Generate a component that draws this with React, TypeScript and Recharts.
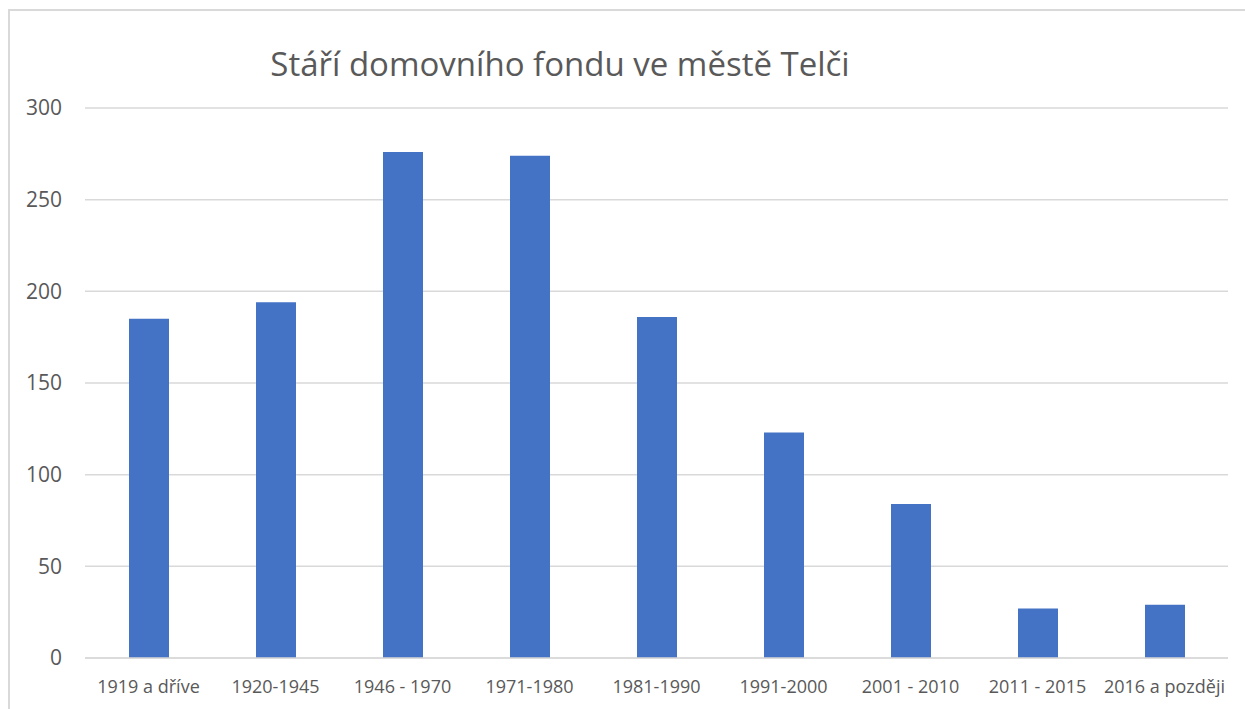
import React from "react";
import { BarChart, Bar, XAxis, YAxis, CartesianGrid } from "recharts";

// Age of the housing stock in Telč: number of houses by construction period
const periods = [
  "1919 a dříve",
  "1920-1945",
  "1946 - 1970",
  "1971-1980",
  "1981-1990",
  "1991-2000",
  "2001 - 2010",
  "2011 - 2015",
  "2016 a později",
];
const houses = [185, 194, 276, 274, 186, 123, 84, 27, 29];
const yTicks = [0, 50, 100, 150, 200, 250, 300];

const data = periods.map((period, i) => ({ period, houses: houses[i] }));

const FONT = '"Open Sans", "Noto Sans", sans-serif';
const TEXT = "#595959";
const GRID = "#d9d9d9";

export default function App() {
  return (
    <div
      style={{
        position: "absolute",
        left: 0,
        top: 0,
        width: 1245,
        height: 709,
        background: "#fff",
        overflow: "hidden",
        fontFamily: FONT,
      }}
    >
      <div
        style={{
          position: "absolute",
          left: 8,
          top: 9,
          width: 1260,
          height: 720,
          border: `2px solid ${GRID}`,
          boxSizing: "border-box",
        }}
      />
      <div
        style={{
          position: "absolute",
          left: 0,
          width: 1120,
          top: 44,
          textAlign: "center",
          fontSize: 33,
          color: TEXT,
          lineHeight: "40px",
          whiteSpace: "nowrap",
        }}
      >
        Stáří domovního fondu ve městě Telči
      </div>
      <BarChart
        width={1245}
        height={709}
        data={data}
        margin={{ top: 108, right: 17, bottom: 0, left: 0 }}
        style={{ position: "absolute", left: 0, top: 0 }}
      >
        <CartesianGrid vertical={false} stroke={GRID} strokeWidth={1.5} />
        <XAxis
          dataKey="period"
          axisLine={{ stroke: GRID, strokeWidth: 1.5 }}
          tickLine={false}
          tickSize={0}
          tickMargin={22}
          height={51}
          interval={0}
          tick={{ fill: TEXT, fontSize: 18, fontFamily: FONT }}
        />
        <YAxis
          domain={[0, 300]}
          ticks={yTicks}
          width={85}
          axisLine={false}
          tickLine={false}
          tickSize={0}
          tickMargin={23}
          tick={{ fill: TEXT, fontSize: 21, fontFamily: FONT }}
        />
        <Bar dataKey="houses" fill="#4472C4" barSize={40} isAnimationActive={false} />
      </BarChart>
    </div>
  );
}
